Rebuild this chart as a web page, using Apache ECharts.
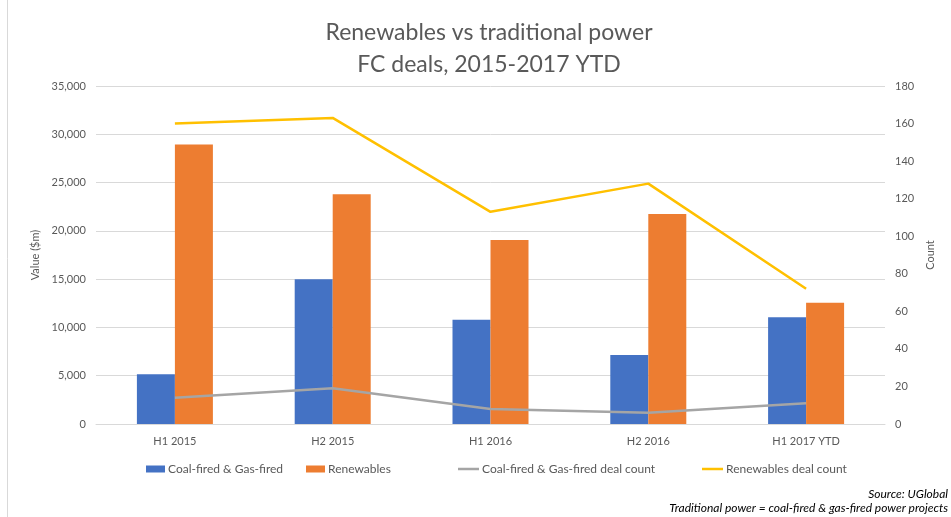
<!DOCTYPE html>
<html>
<head>
<meta charset="utf-8">
<script src="https://cdn.jsdelivr.net/npm/echarts@6/dist/echarts.min.js"></script>
<style>
  html, body { margin: 0; padding: 0; background: #fff; }
  #chart { width: 951px; height: 517px; }
</style>
</head>
<body>
<div id="chart"></div>
<script>
const categories = ["H1 2015", "H2 2015", "H1 2016", "H2 2016", "H1 2017 YTD"];
const coalGasValue = [5150, 15000, 10800, 7150, 11050];
const renewablesValue = [28950, 23800, 19050, 21750, 12550];
const coalGasCount = [14, 19, 8, 6, 11];
const renewablesCount = [160, 163, 113, 128, 72];

const FONT = "Lato";
const GREY_TEXT = "#595959";

let dom = document.getElementById("chart");
let myChart = echarts.init(dom, null, { renderer: "canvas" });

// one legend per item so they sit where Excel put them
const legendAt = (name, left, isLine) => ({
  data: [name],
  left: left,
  top: 458,
  itemWidth: isLine ? 21 : 19,
  itemHeight: isLine ? 2.5 : 7,
  icon: "rect",
  itemGap: 3,
  textStyle: { fontFamily: FONT, fontSize: 12, color: GREY_TEXT, padding: [0, 0, 0, -2] }
});

let option = {
  backgroundColor: "#fff",
  animation: false,
  title: {
    text: "Renewables vs traditional power\nFC deals, 2015-2017 YTD",
    left: 484,
    textAlign: "center",
    top: 12,
    textStyle: {
      fontFamily: FONT,
      fontSize: 23,
      fontWeight: "normal",
      color: GREY_TEXT,
      lineHeight: 32
    }
  },
  grid: { left: 96, right: 66, top: 86, bottom: 93 },
  legend: [
    legendAt("Coal-fired & Gas-fired", 141, false),
    legendAt("Renewables", 301, false),
    legendAt("Coal-fired & Gas-fired deal count", 453, true),
    legendAt("Renewables deal count", 697, true)
  ],
  xAxis: {
    type: "category",
    data: categories,
    axisLine: { lineStyle: { color: "#d9d9d9" } },
    axisTick: { show: false },
    axisLabel: { fontFamily: FONT, fontSize: 11, color: GREY_TEXT, margin: 12 }
  },
  yAxis: [
    {
      type: "value",
      min: 0,
      max: 35000,
      interval: 5000,
      name: "Value ($m)",
      nameLocation: "middle",
      nameGap: 52,
      nameTextStyle: { fontFamily: FONT, fontSize: 11, color: GREY_TEXT },
      axisLabel: {
        fontFamily: FONT,
        fontSize: 11,
        color: GREY_TEXT,
        margin: 10,
        formatter: (v) => v.toLocaleString("en-US")
      },
      axisLine: { show: false },
      axisTick: { show: false },
      splitLine: { lineStyle: { color: "#d9d9d9", width: 1 } }
    },
    {
      type: "value",
      min: 0,
      max: 180,
      interval: 20,
      name: "Count",
      nameLocation: "middle",
      nameGap: 36,
      nameRotate: 90,
      nameTextStyle: { fontFamily: FONT, fontSize: 11, color: GREY_TEXT },
      axisLabel: { fontFamily: FONT, fontSize: 11, color: GREY_TEXT, margin: 10 },
      axisLine: { show: false },
      axisTick: { show: false },
      splitLine: { show: false }
    }
  ],
  series: [
    {
      name: "Coal-fired & Gas-fired",
      type: "bar",
      data: coalGasValue,
      barWidth: 38,
      barGap: "0%",
      itemStyle: { color: "#4472c4" }
    },
    {
      name: "Renewables",
      type: "bar",
      data: renewablesValue,
      barWidth: 38,
      barGap: "0%",
      itemStyle: { color: "#ed7d31" }
    },
    {
      name: "Coal-fired & Gas-fired deal count",
      type: "line",
      yAxisIndex: 1,
      data: coalGasCount,
      symbol: "none",
      itemStyle: { color: "#a5a5a5" },
      lineStyle: { color: "#a5a5a5", width: 2.5 }
    },
    {
      name: "Renewables deal count",
      type: "line",
      yAxisIndex: 1,
      data: renewablesCount,
      symbol: "none",
      itemStyle: { color: "#ffc000" },
      lineStyle: { color: "#ffc000", width: 2.5 }
    }
  ],
  graphic: [
    {
      type: "line",
      shape: { x1: 7.5, y1: 0, x2: 7.5, y2: 517 },
      style: { stroke: "#d9d9d9", lineWidth: 1 }
    },
    {
      type: "text",
      right: 3,
      top: 488,
      style: {
        text: "Source: UGlobal",
        fontFamily: FONT,
        fontStyle: "italic",
        fontSize: 12,
        fill: "#000",
        textAlign: "right"
      }
    },
    {
      type: "text",
      right: 3,
      top: 502,
      style: {
        text: "Traditional power = coal-fired & gas-fired power projects",
        fontFamily: FONT,
        fontStyle: "italic",
        fontSize: 12,
        fill: "#000",
        textAlign: "right"
      }
    }
  ]
};

myChart.setOption(option);
</script>
</body>
</html>
